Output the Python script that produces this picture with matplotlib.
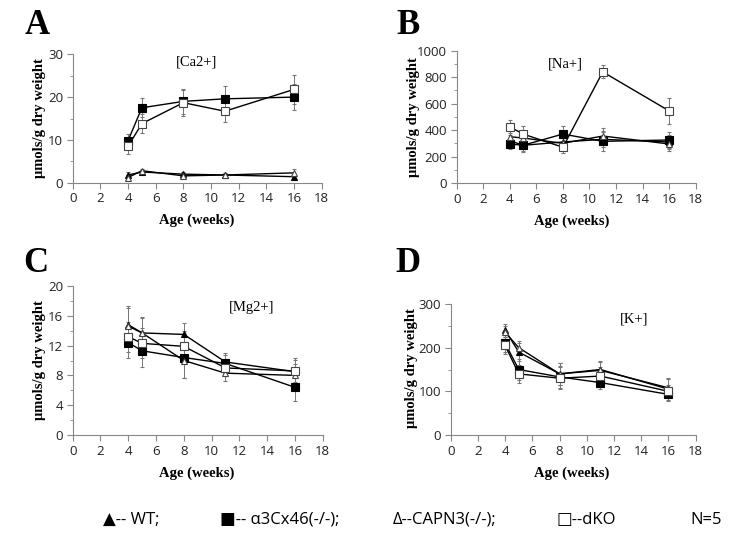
import matplotlib
matplotlib.use("Agg")
import matplotlib.pyplot as plt
from matplotlib.ticker import MultipleLocator

weeks = [4, 5, 8, 11, 16]

# Panel A: Ca2+
ca_wt = [1.8, 2.5, 2.0, 1.8, 1.4]
ca_wt_err = [0.6, 0.5, 0.5, 0.4, 0.5]
ca_ko = [9.8, 17.5, 19.0, 19.6, 20.0]
ca_ko_err = [1.5, 2.2, 3.0, 3.0, 3.0]
ca_capn = [1.2, 2.8, 1.6, 1.8, 2.3]
ca_capn_err = [0.5, 0.5, 0.5, 0.4, 0.8]
ca_dko = [8.5, 13.8, 18.7, 16.7, 21.8]
ca_dko_err = [1.8, 2.2, 3.0, 2.5, 3.3]

# Panel B: Na+
na_wt = [320, 285, 310, 330, 310]
na_wt_err = [40, 40, 50, 60, 50]
na_ko = [295, 285, 370, 315, 325]
na_ko_err = [35, 50, 60, 70, 60]
na_capn = [350, 340, 300, 355, 295]
na_capn_err = [40, 60, 40, 60, 50]
na_dko = [425, 370, 270, 840, 545]
na_dko_err = [50, 60, 40, 50, 100]

# Panel C: Mg2+
mg_wt = [14.8, 13.7, 13.5, 9.8, 8.5]
mg_wt_err = [2.5, 2.0, 1.6, 1.2, 1.8]
mg_ko = [12.4, 11.3, 10.4, 9.6, 6.4]
mg_ko_err = [2.0, 2.2, 2.8, 1.2, 1.8]
mg_capn = [14.6, 13.7, 10.0, 8.3, 8.0]
mg_capn_err = [2.5, 2.2, 2.4, 1.0, 1.5]
mg_dko = [13.2, 12.3, 11.9, 9.0, 8.6]
mg_dko_err = [2.0, 2.0, 2.0, 1.0, 1.5]

# Panel D: K+
k_wt = [240, 190, 140, 150, 105]
k_wt_err = [15, 20, 25, 20, 25]
k_ko = [210, 150, 133, 120, 93]
k_ko_err = [20, 25, 25, 15, 15]
k_capn = [235, 200, 140, 148, 108]
k_capn_err = [15, 15, 25, 20, 20]
k_dko = [205, 140, 130, 135, 100]
k_dko_err = [20, 20, 25, 20, 15]

panel_letters = ["A", "B", "C", "D"]
panel_titles = ["[Ca2+]", "[Na+]", "[Mg2+]", "[K+]"]
x_ticks = [0, 2, 4, 6, 8, 10, 12, 14, 16, 18]
legend_items = ["\u25b2-- WT;", "\u25a0-- \u03b13Cx46(-/-);", "\u0394--CAPN3(-/-);", "\u25a1--dKO", "N=5"]

fig = plt.figure(figsize=(7.5, 5.38), dpi=100)
W, H = 750, 538

def ax_rect(l, r, b, t):
    return [l / W, 1 - b / H, (r - l) / W, (b - t) / H]

panels = [
    dict(rect=ax_rect(72.7, 321.7, 182.7, 54.3), ylim=30, ymaj=10, ymin=5,
         data=[(ca_wt, ca_wt_err), (ca_ko, ca_ko_err), (ca_capn, ca_capn_err), (ca_dko, ca_dko_err)],
         letter=(37, 26), title=(197, 62), xlab=(197, 220), ylab=(40, 118)),
    dict(rect=ax_rect(456.7, 695.7, 183, 50.7), ylim=1000, ymaj=200, ymin=100,
         data=[(na_wt, na_wt_err), (na_ko, na_ko_err), (na_capn, na_capn_err), (na_dko, na_dko_err)],
         letter=(408, 25), title=(565, 64), xlab=(572, 221), ylab=(413, 117)),
    dict(rect=ax_rect(72.7, 322.7, 435, 286), ylim=20, ymaj=4, ymin=2,
         data=[(mg_wt, mg_wt_err), (mg_ko, mg_ko_err), (mg_capn, mg_capn_err), (mg_dko, mg_dko_err)],
         letter=(36, 264), title=(252, 308), xlab=(197, 473), ylab=(40, 360)),
    dict(rect=ax_rect(450.7, 695.7, 435, 304), ylim=300, ymaj=100, ymin=50,
         data=[(k_wt, k_wt_err), (k_ko, k_ko_err), (k_capn, k_capn_err), (k_dko, k_dko_err)],
         letter=(408, 263), title=(634, 319), xlab=(572, 473), ylab=(412, 368)),
]

styles = [
    dict(marker="^", mfc="black", mec="black", ms=5),
    dict(marker="s", mfc="black", mec="black", ms=5.5),
    dict(marker="^", mfc="white", mec="#444444", ms=5),
    dict(marker="s", mfc="white", mec="#444444", ms=5.5),
]

serif = ["Liberation Serif", "DejaVu Serif"]
sans = ["Open Sans", "DejaVu Sans"]

for i, p in enumerate(panels):
    ax = fig.add_axes(p["rect"])
    for (vals, errs), st in zip(p["data"], styles):
        ax.errorbar(weeks, vals, yerr=errs, color="black", lw=1.0,
                    ecolor="#777777", elinewidth=0.7, capsize=1.5, capthick=0.7,
                    marker=st["marker"], mfc=st["mfc"], mec=st["mec"],
                    ms=st["ms"], mew=0.8, zorder=3)
    ax.set_xlim(0, 18)
    ax.set_ylim(0, p["ylim"])
    ax.set_xticks(x_ticks)
    ax.yaxis.set_major_locator(MultipleLocator(p["ymaj"]))
    ax.yaxis.set_minor_locator(MultipleLocator(p["ymin"]))
    for s in ["top", "right"]:
        ax.spines[s].set_visible(False)
    for s in ["left", "bottom"]:
        ax.spines[s].set_color("#888888")
        ax.spines[s].set_linewidth(0.8)
    ax.tick_params(axis="both", which="both", color="#888888", direction="out",
                   labelsize=9.5, pad=3)
    ax.tick_params(axis="both", which="major", length=4)
    ax.tick_params(axis="y", which="minor", length=2.5)
    for lab in ax.get_xticklabels() + ax.get_yticklabels():
        lab.set_fontfamily(sans)
        lab.set_color("#222222")
    lx, ly = p["letter"]
    fig.text(lx / W, 1 - ly / H, panel_letters[i], fontsize=25, fontweight="bold",
             family=serif, ha="center", va="center")
    tx, ty = p["title"]
    fig.text(tx / W, 1 - ty / H, panel_titles[i], fontsize=10.5, family=serif,
             ha="center", va="center")
    xx, xy = p["xlab"]
    fig.text(xx / W, 1 - xy / H, "Age (weeks)", fontsize=10.5, fontweight="bold",
             family=serif, ha="center", va="center")
    yx, yy = p["ylab"]
    fig.text(yx / W, 1 - yy / H, "\u03bcmols/g dry weight", fontsize=10.5, fontweight="bold",
             family=serif, ha="center", va="center", rotation=90)

leg_x = [103, 220, 393, 557, 690]
for x, t in zip(leg_x, legend_items):
    fig.text(x / W, 1 - 520 / H, t, fontsize=12, family=sans, ha="left", va="center")

fig.savefig("out.png", dpi=100)
